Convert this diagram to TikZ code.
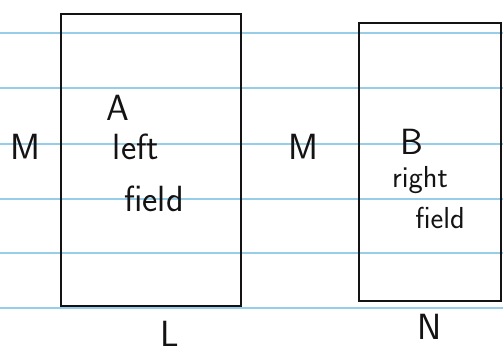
\documentclass[tikz,border=0pt]{standalone}
\usepackage{xcolor}
\usepackage{tikz}
\usetikzlibrary{positioning}
\definecolor{ruleblue}{RGB}{150,205,232}
\definecolor{inkblack}{RGB}{20,18,18}

\begin{document}
\begin{tikzpicture}[x=0.02cm,y=-0.02cm,every node/.style={font=\sffamily\huge,text=inkblack,inner sep=0pt}]
  \useasboundingbox (0,0) rectangle (503,354);
  % ruled paper
  \foreach \y in {33,88,144,199,253,308}
    \draw[ruleblue,line width=1pt] (0,\y) -- (503,\y);
  % the two fields
  \node[draw=inkblack,line width=1.3pt,minimum width=3.6cm,minimum height=5.84cm,
        anchor=north west] (fa) at (60,13) {};
  \node[draw=inkblack,line width=1.3pt,minimum width=2.84cm,minimum height=5.56cm,
        anchor=north west] (fb) at (358,22) {};
  % labels
  \node (ma) at (25,147) {M};
  \node (mb) at (303,147) {M};
  \node (la) at (118,108) {A};
  \node[anchor=base] (lb) at (136,160) {left};
  \node[anchor=base] (lc) at (154,212) {field};
  \node (ra) at (412,142) {B};
  \node[anchor=base,font=\sffamily\LARGE] (rb) at (420,188) {right};
  \node[anchor=base,font=\sffamily\LARGE] (rc) at (440,229) {field};
  \node (wl) at (170,334) {L};
  \node (wn) at (430,327) {N};
\end{tikzpicture}
\end{document}
